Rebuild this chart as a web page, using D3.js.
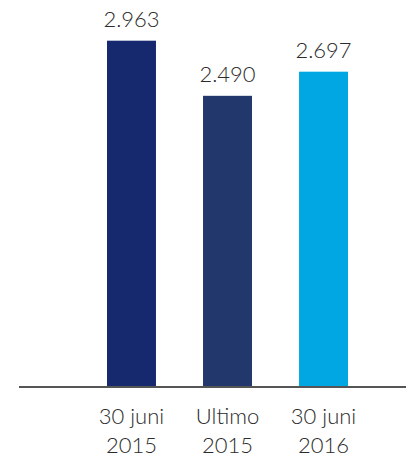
<!DOCTYPE html>
<html>
<head>
<meta charset="utf-8">
<script src="https://cdn.jsdelivr.net/npm/d3@7"></script>
<style>
    html, body { margin: 0; padding: 0; background: #fff; }
    svg { display: block; }
    text { font-family: Lato, "DejaVu Sans", sans-serif; font-weight: 300; fill: #2b2b2b; }
</style>
</head>
<body>
<script>
// chart data
var categories = ["30 juni 2015", "Ultimo 2015", "30 juni 2016"];
var labelLines = [["30 juni", "2015"], ["Ultimo", "2015"], ["30 juni", "2016"]];
var values = [2963, 2490, 2697];
var barColors = ["#16296e", "#22376b", "#00a7e3"];

(function () {
    var width = 412, height = 457;
    var baseline = 386;

    var svg = d3.select("body").append("svg")
        .attr("width", width)
        .attr("height", height);

    var x = d3.scaleBand()
        .domain(categories)
        .range([107, 348])
        .paddingInner(0.49)
        .paddingOuter(0);

    var y = d3.scaleLinear()
        .domain([0, 3000])
        .range([baseline, baseline - 3000 * 0.11654]);

    var nl = d3.formatLocale({decimal: ",", thousands: ".", grouping: [3], currency: ["", ""]});
    var fmt = nl.format(",d");

    // bars
    svg.selectAll(".bar")
        .data(values)
        .enter().append("rect")
        .attr("class", "bar")
        .attr("x", function (d, i) { return x(categories[i]); })
        .attr("width", x.bandwidth())
        .attr("y", function (d) { return y(d); })
        .attr("height", function (d) { return y(0) - y(d); })
        .attr("fill", function (d, i) { return barColors[i]; });

    // value labels
    svg.selectAll(".val")
        .data(values)
        .enter().append("text")
        .attr("class", "val")
        .attr("x", function (d, i) { return x(categories[i]) + x.bandwidth() / 2; })
        .attr("y", function (d) { return y(d) - 14; })
        .attr("text-anchor", "middle")
        .style("font-size", "22px")
        .text(function (d) { return fmt(d); });

    // axis line
    svg.append("line")
        .attr("x1", 19).attr("x2", 406)
        .attr("y1", y(0) + 1).attr("y2", y(0) + 1)
        .attr("stroke", "#555")
        .attr("stroke-width", 2);

    // category labels
    var cat = svg.selectAll(".cat")
        .data(categories)
        .enter().append("text")
        .attr("class", "cat")
        .attr("text-anchor", "middle")
        .style("font-size", "22px");

    cat.each(function (d, i) {
        var t = d3.select(this);
        var cx = x(d) + x.bandwidth() / 2;
        labelLines[i].forEach(function (line, j) {
            t.append("tspan")
                .attr("x", cx)
                .attr("y", 424 + j * 29)
                .text(line);
        });
    });
})();
</script>
</body>
</html>
